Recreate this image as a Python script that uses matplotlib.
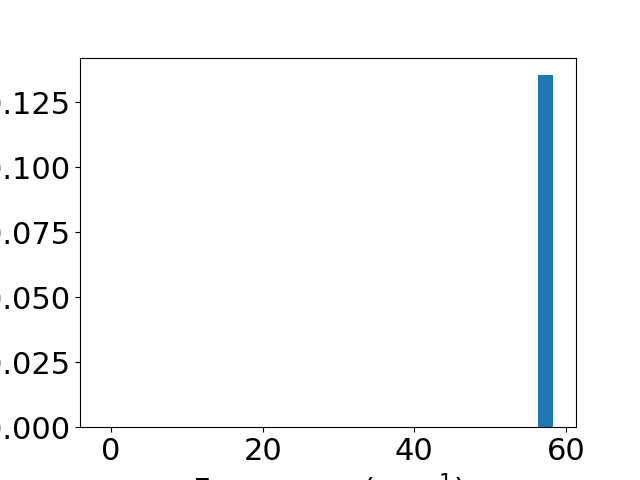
import numpy as np
import matplotlib
matplotlib.use("Agg")
import matplotlib.pyplot as plt

# histogram data (30 bins, only the last one is populated)
bin_lo = -1.12
bin_hi = 58.33
n_bins = 30
bar_heights = [0.0] * 29 + [0.1355]

edges = np.linspace(bin_lo, bin_hi, n_bins + 1)
widths = np.diff(edges)

plt.rcParams['font.size'] = 22
fig, ax = plt.subplots(figsize=(6.4, 4.8), dpi=100)
ax.bar(edges[:-1], bar_heights, width=widths, align='edge', color='#1f77b4')
ax.set_xlabel("Frequency (cm$^{-1}$)")
ax.set_xticks([0, 20, 40, 60])
fig.savefig("out.png")
